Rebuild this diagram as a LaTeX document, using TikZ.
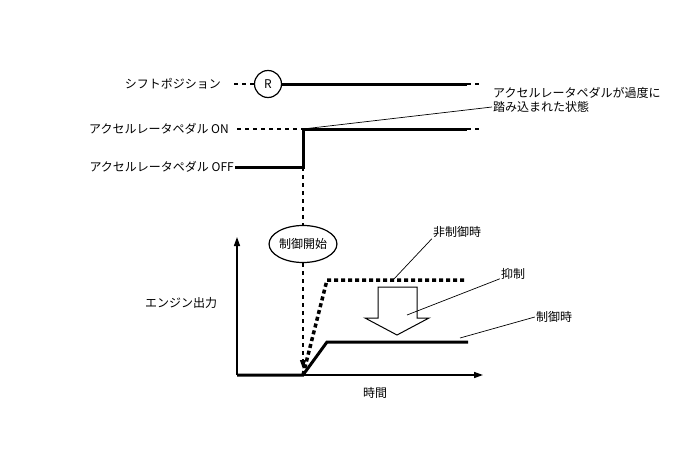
\documentclass[tikz,border=0pt]{standalone}
\usepackage{fontspec}
\setmainfont{Noto Sans CJK JP}
\usetikzlibrary{arrows.meta,shapes.geometric}

\begin{document}
\begin{tikzpicture}[x=1pt, y=-1pt, line join=miter, >={Triangle[length=9pt,width=6pt]},
    font=\fontsize{12}{14}\selectfont,
    lbl/.style={inner sep=1pt},
    sigline/.style={line width=3pt},
    guide/.style={line width=1.2pt, dash pattern=on 4pt off 4pt},
    leader/.style={line width=0.7pt},
    dotcurve/.style={line width=3.5pt, dash pattern=on 4pt off 3pt}]
  \useasboundingbox (0,0) rectangle (688,463);

  % Key positions (pixel grid, y pointing down)
  \def\xOn{303}
  \def\yShift{84} \def\yOn{129} \def\yOff{167}
  \def\xEnd{467} \def\xTail{480}
  \def\xO{237} \def\yO{375}
  \def\yHigh{280} \def\yLow{342} \def\xRise{327}

  % Shift position
  \node[lbl, anchor=east] (shiftLbl) at (222,\yShift) {シフトポジション};
  \coordinate (shiftA) at (234,\yShift);
  \node[draw, circle, line width=1.2pt, minimum size=27pt, inner sep=0pt] (posR) at (268,\yShift) {R};
  \coordinate (shiftB) at (\xEnd,\yShift);
  \coordinate (shiftC) at (\xTail,\yShift);
  \draw[guide] (shiftA) -- (posR.west);
  \draw[sigline] (posR.east) -- (shiftB);
  \draw[guide] (shiftB) -- (shiftC);

  % Accelerator pedal ON / OFF
  \node[lbl, anchor=east] (onLbl) at (230,\yOn) {アクセルレータペダル ON};
  \node[lbl, anchor=east] (offLbl) at (235,\yOff) {アクセルレータペダル OFF};
  \coordinate (onA) at (237,\yOn);
  \coordinate (onB) at (\xOn,\yOn);
  \coordinate (onC) at (\xEnd,\yOn);
  \coordinate (onD) at (\xTail,\yOn);
  \coordinate (offB) at (\xOn,\yOff);
  \draw[guide] (onA) -- (onB);
  \draw[sigline] (offLbl.east) -- (offB) -- (onB) -- (onC);
  \draw[guide] (onC) -- (onD);

  % Note on the pressed pedal
  \node[lbl, anchor=west] (note1) at (492,93) {アクセルレータペダルが過度に};
  \node[lbl, anchor=west] (note2) at (492,107) {踏み込まれた状態};
  \draw[leader] (onB) -- (note2.west);

  % Control start
  \node[draw, ellipse, line width=1.2pt, minimum width=65pt, minimum height=37pt, inner sep=0pt]
    (ctrl) at (\xOn,244) {制御開始};
  \coordinate (start) at (\xOn,\yO);

  % Axes
  \coordinate (orig) at (\xO,\yO);
  \coordinate (yTop) at (\xO,237);
  \coordinate (xRight) at (483,\yO);
  \draw[line width=1.5pt, ->] (orig) -- (yTop);
  \draw[line width=1.5pt, ->] (orig) -- (xRight);
  \node[lbl] (yLbl) at (181,303) {エンジン出力};
  \node[lbl] (xLbl) at (375,393) {時間};

  % Engine output curves
  \coordinate (lowA) at (\xRise,\yLow);
  \coordinate (lowB) at (468,\yLow);
  \coordinate (highA) at (\xRise,\yHigh);
  \coordinate (highB) at (\xEnd,\yHigh);
  \draw[dotcurve] (start) -- (highA) -- (highB);
  \draw[sigline] (orig) -- (start) -- (lowA) -- (lowB);

  % Dashed guide through the control start
  \draw[guide] (offB) -- (ctrl.north);
  \draw[guide, -{Triangle[length=9pt,width=6pt]}] (ctrl.south) -- ([yshift=6pt]start);

  % Hollow arrow for suppression
  \draw[line width=1pt, fill=white] (378,287) -- (417,287) -- (417,318) -- (429,318)
    -- (397,335) -- (365,318) -- (378,318) -- cycle;
  \coordinate (supPt) at (407,315);

  % Curve labels
  \node[lbl] (ncLbl) at (457,232) {非制御時};
  \node[lbl] (supLbl) at (513,274) {抑制};
  \node[lbl] (cLbl) at (554,317) {制御時};
  \coordinate (ncPt) at (393,\yHigh);
  \coordinate (cPt) at (460,338);
  \draw[leader] (ncPt) -- (ncLbl.south west);
  \draw[leader] (supPt) -- (supLbl.200);
  \draw[leader] (cPt) -- (cLbl.west);
\end{tikzpicture}
\end{document}
